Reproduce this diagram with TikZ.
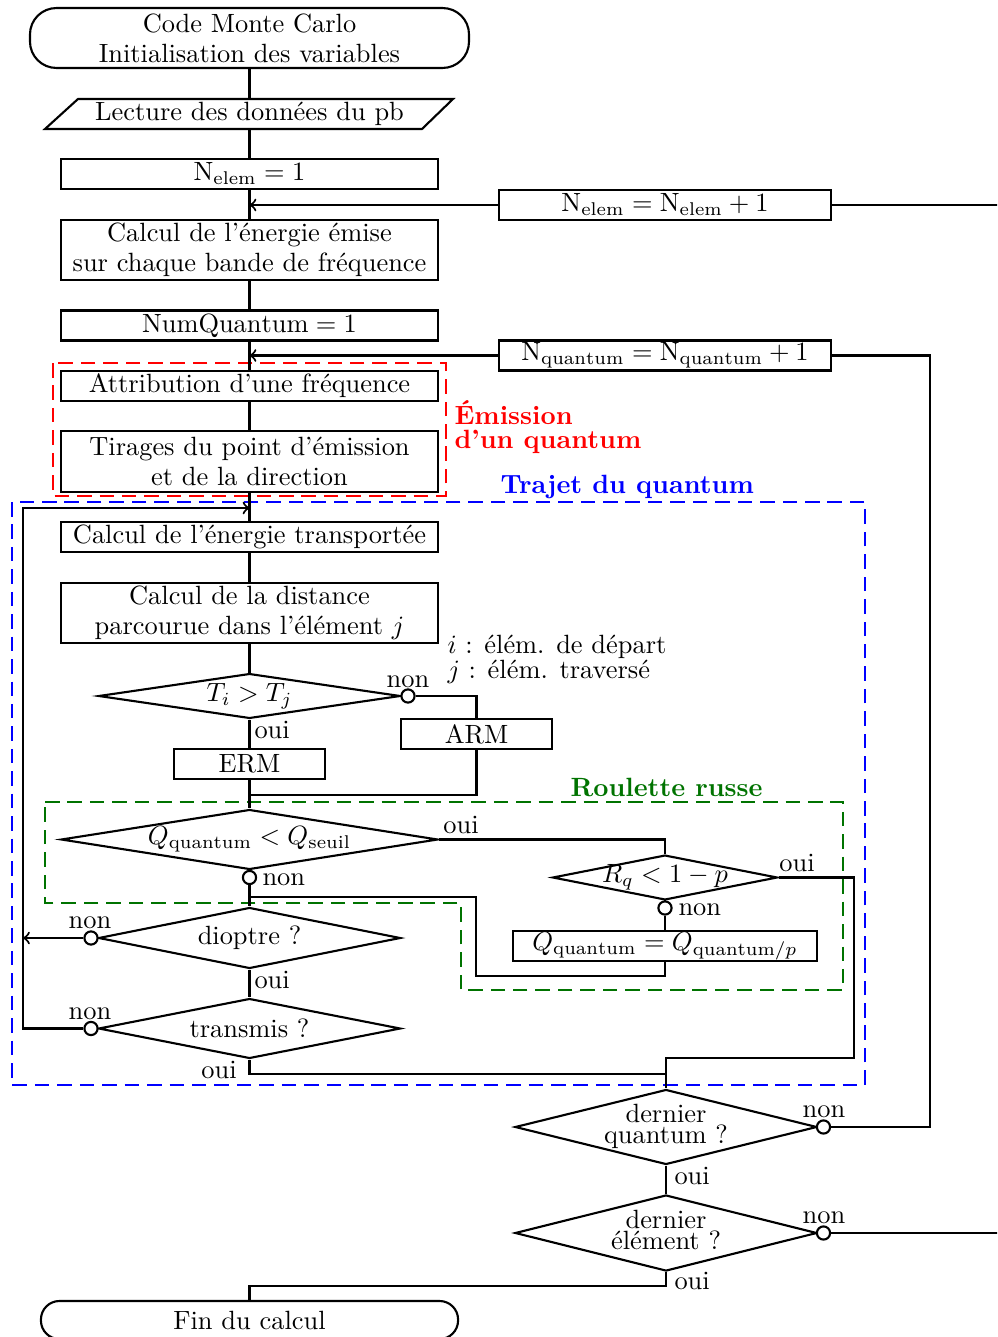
\documentclass[tikz,border=0pt]{standalone}
\usepackage{fontspec}
\usetikzlibrary{shapes.geometric}
\definecolor{dgreen}{rgb}{0,0.45,0}
\begin{document}
\begin{tikzpicture}[x=0.37879pt,y=-0.37879pt,
  every node/.style={font=\fontsize{10}{11.4}\selectfont},
  box/.style={draw,thick,rectangle,inner sep=0pt,align=center,minimum width=142.8pt,minimum height=11.36pt},
  term/.style={draw,thick,rectangle,rounded corners=10pt,inner sep=0pt,align=center},
  dec/.style={draw,thick,diamond,aspect=1,inner sep=0pt},
  dot/.style={draw,thick,circle,fill=white,inner sep=0pt,minimum size=5pt},
  lbl/.style={inner sep=0pt},
  line/.style={thick},
  arr/.style={thick,->},
  zone/.style={thick,dash pattern=on 5.5pt off 3pt},
  ttl/.style={inner sep=0pt,font=\fontsize{10}{11.4}\selectfont\bfseries}
]
\useasboundingbox (0,0) rectangle (997,1337);
\clip (0,0) rectangle (997,1337);

% zones
\draw[zone,red] (53,363) rectangle (446,496);
\draw[zone,blue] (12,502) rectangle (865,1085);
\draw[zone,dgreen] (45,802) -- (843,802) -- (843,990) -- (461,990) -- (461,903) -- (45,903) -- cycle;

% nodes
\node[term,minimum width=166.3pt,minimum height=22.7pt] (start) at (249.5,38) {Code Monte Carlo\\Initialisation des variables};
\node[lbl,minimum width=142.8pt,minimum height=11.36pt] (read) at (249.5,114) {Lecture des données du pb};
\draw[line] (78,99) -- (453,99) -- (422,129) -- (45,129) -- cycle;
\node[box] (n1) at (249.5,174) {$\mathrm{N}_{\mathrm{elem}}=1$};
\node[box,minimum width=125.8pt] (ninc) at (665,205) {$\mathrm{N}_{\mathrm{elem}}=\mathrm{N}_{\mathrm{elem}}+1$};
\node[box,minimum height=22.73pt] (emit) at (249.5,250) {Calcul de l'énergie émise\\sur chaque bande de fréquence};
\node[box] (nq1) at (249.5,325.5) {$\mathrm{NumQuantum}=1$};
\node[box,minimum width=125.8pt] (nqinc) at (665,355.5) {$\mathrm{N}_{\mathrm{quantum}}=\mathrm{N}_{\mathrm{quantum}}+1$};
\node[box] (freq) at (249.5,386) {Attribution d'une fréquence};
\node[box,minimum height=23.1pt] (tir) at (249.5,461.5) {Tirages du point d'émission\\et de la direction};
\node[box] (etr) at (249.5,537) {Calcul de l'énergie transportée};
\node[box,minimum height=22.73pt] (dist) at (249.5,613) {Calcul de la distance\\parcourue dans l'élément $j$};
\node[dec,minimum width=114.4pt,minimum height=17pt] (tt) at (249.5,696) {\makebox[0pt]{$T_i>T_j$}};
\node[box,minimum width=57.2pt] (arm) at (476.5,734) {ARM};
\node[box,minimum width=57.2pt] (erm) at (249.5,764) {ERM};
\node[dec,minimum width=142.8pt,minimum height=22.7pt] (qs) at (249.5,839.5) {\makebox[0pt]{$Q_{\mathrm{quantum}}<Q_{\mathrm{seuil}}$}};
\node[dec,minimum width=85.2pt,minimum height=17pt] (rq) at (665,877.5) {\makebox[0pt]{$R_q<1-p$}};
\node[box,minimum width=115.2pt] (qp) at (665,946) {$Q_{\mathrm{quantum}}=Q_{\mathrm{quantum}/p}$};
\node[dec,minimum width=114.4pt,minimum height=23.1pt] (diop) at (249.5,938) {\makebox[0pt]{dioptre ?}};
\node[dec,minimum width=114.4pt,minimum height=22.7pt] (trans) at (249.5,1028.5) {\makebox[0pt]{transmis ?}};
\node[dec,minimum width=114.4pt,minimum height=28.4pt] (dq) at (666,1127) {\makebox[0pt]{\begin{tabular}{@{}c@{}}dernier\\[-3.2pt]quantum ?\end{tabular}}};
\node[dec,minimum width=114.4pt,minimum height=28.8pt] (de) at (666,1233) {\makebox[0pt]{\begin{tabular}{@{}c@{}}dernier\\[-3.2pt]élément ?\end{tabular}}};
\node[term,rounded corners=7pt,minimum width=158pt,minimum height=14.4pt] (fin) at (249.5,1320) {Fin du calcul};

% junction dots
\node[dot] (ct) at (408,696) {};
\node[dot] (cq) at (249.5,877.5) {};
\node[dot] (cr) at (665,908) {};
\node[dot] (cd) at (91,938) {};
\node[dot] (ctr) at (91,1028.5) {};
\node[dot] (cdq) at (823.5,1127) {};
\node[dot] (cde) at (823.5,1233) {};

% coordinates
\coordinate (jA) at (249.5,795);
\coordinate (jB) at (476,976);
\coordinate (jC) at (249.5,897);
\coordinate (r1) at (854,1058);
\coordinate (xL) at (23,508);
\coordinate (t1) at (666,1074);
\coordinate (xQ) at (930,355.5);
\coordinate (xE) at (1030,205);
\coordinate (f1) at (400,1286);

% connectors
\draw[line] (start) -- (read);
\draw[line] (read) -- (n1);
\draw[line] (n1) -- (emit);
\draw[arr] (ninc.west) -- (ninc.west -| n1.south);
\draw[line] (emit) -- (nq1);
\draw[line] (nq1) -- (freq);
\draw[arr] (nqinc.west) -- (nqinc.west -| nq1.south);
\draw[line] (freq) -- (tir);
\draw[line] (tir) -- (etr);
\draw[line] (etr) -- (dist);
\draw[line] (dist) -- (tt);
\draw[line] (tt) -- (erm);
\draw[line] (erm) -- (qs);
\draw[line] (ct.east) -| (arm.north);
\draw[line] (arm.south) |- (jA);
\draw[line] (qs.east) -| (rq.north);
\draw[line] (rq) -- (cr);
\draw[line] (cr) -- (qp);
\draw[line] (qp.south) |- (jB) |- (jC);
\draw[line] (qs) -- (cq);
\draw[line] (cq) -- (diop);
\draw[line] (rq.east) -| (r1) -| (dq.north);
\draw[arr] (cd.west) -- (cd.west -| xL);
\draw[line] (diop) -- (trans);
\draw[arr] (ctr.west) -| (xL) -- (xL -| etr.north);
\draw[line] (trans.south) |- (t1) -- (dq.north);
\draw[line] (cdq.east) -| (xQ) -- (nqinc.east);
\draw[line] (dq) -- (de);
\draw[line] (cde.east) -| (xE) -- (ninc.east);
\draw[line] (de.south) |- (f1) -| (fin.north);

% branch labels
\node[lbl,anchor=base] at (408,687) {non};
\node[lbl,anchor=base west] at (254,738) {oui};
\node[lbl,anchor=base] at (461,833) {oui};
\node[lbl,anchor=base west] at (262,885) {non};
\node[lbl,anchor=base] at (797,871) {oui};
\node[lbl,anchor=base west] at (678,915) {non};
\node[lbl,anchor=base] at (90,928) {non};
\node[lbl,anchor=base west] at (254,988) {oui};
\node[lbl,anchor=base] at (90,1019) {non};
\node[lbl,anchor=base] at (219,1078) {oui};
\node[lbl,anchor=base] at (824,1117) {non};
\node[lbl,anchor=base west] at (674,1184) {oui};
\node[lbl,anchor=base] at (824,1223) {non};
\node[lbl,anchor=base west] at (674,1289) {oui};

% notes
\node[lbl,anchor=base west] at (447,653) {$i$ : élém. de départ};
\node[lbl,anchor=base west] at (447,678) {$j$ : élém. traversé};

% zone titles
\node[ttl,red,anchor=base west] at (454,424) {Émission};
\node[ttl,red,anchor=base west] at (454,448) {d'un quantum};
\node[ttl,blue,anchor=base west] at (500,493) {Trajet du quantum};
\node[ttl,dgreen,anchor=base west] at (570,796) {Roulette russe};
\end{tikzpicture}
\end{document}
